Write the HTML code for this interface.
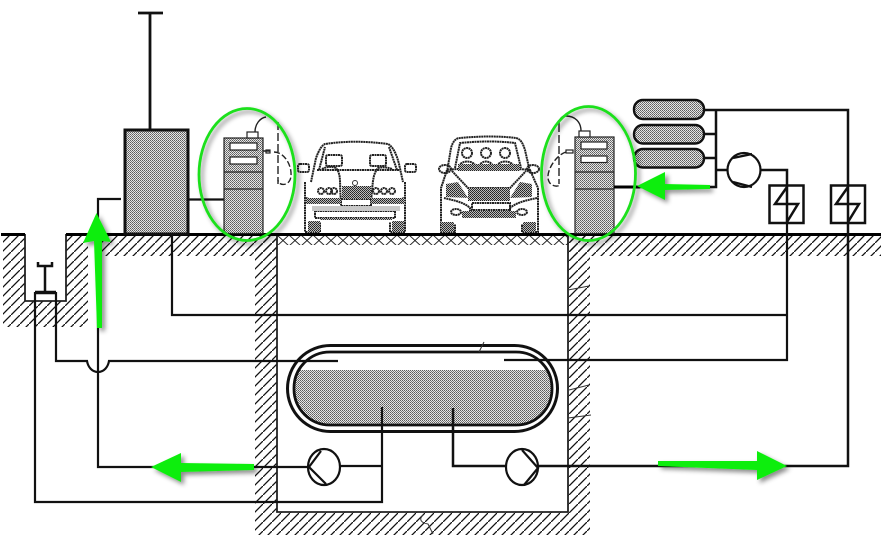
<!DOCTYPE html>
<html><head><meta charset="utf-8"><title>Diagram</title>
<style>html,body{margin:0;padding:0;background:#fff}svg{display:block}</style></head>
<body>
<svg xmlns="http://www.w3.org/2000/svg" width="881" height="552" viewBox="0 0 881 552">
<defs>
<pattern id="h" width="9" height="9" patternUnits="userSpaceOnUse" patternTransform="translate(2,0)">
<path d="M-1 10L10 -1" stroke="#111" stroke-width="1.3"/>
</pattern>
<pattern id="d" width="2" height="2" patternUnits="userSpaceOnUse">
<rect width="2" height="2" fill="#e6e6e6"/><rect width="1" height="1" fill="#5c5c5c"/><rect x="1" y="1" width="1" height="1" fill="#787878"/>
</pattern>
<pattern id="x" width="12" height="11" patternUnits="userSpaceOnUse" patternTransform="translate(277,235)">
<path d="M0 0L12 11M12 0L0 11" stroke="#222" stroke-width="1"/>
</pattern>
<pattern id="c" width="2" height="2" patternUnits="userSpaceOnUse">
<rect width="2" height="2" fill="#bbb"/><rect width="1" height="1" fill="#222"/><rect x="1" y="1" width="1" height="1" fill="#333"/>
</pattern>
<filter id="s" x="-30%" y="-30%" width="170%" height="170%"><feDropShadow dx="3" dy="3" stdDeviation="2.5" flood-color="#000" flood-opacity=".45"/></filter>
</defs>
<rect width="881" height="552" fill="#fff"/>

<!-- hatching -->
<path fill="url(#h)" d="M3 235H25V301H66V235H88V327H3Z"/>
<path fill="url(#h)" d="M100 235H277V256H100Z"/>
<path fill="url(#h)" d="M255 235H277V512H568V235H590V535H255Z"/>
<path fill="url(#h)" d="M568 235H881V256H568Z"/>
<rect x="277" y="235" width="291" height="10" fill="url(#x)"/>

<!-- vault + pit -->
<g fill="none" stroke="#222" stroke-width="1.8">
<path d="M277 234V512H568V234"/>
<path d="M25 234V301H66V234"/>
</g>

<!-- ground -->
<path d="M1 234.5H25M66 234.5H881" stroke="#000" stroke-width="3" fill="none"/>

<!-- tank -->
<rect x="287.500" y="345.500" width="270" height="86" rx="43" fill="#fff" stroke="#111" stroke-width="3"/>
<path d="M297 370H549C552 376 552 382 552 388C552 408 535 425 514 425H332C311 425 294 408 294 388C294 382 295 376 297 370Z" fill="url(#d)"/>
<rect x="294" y="352" width="258" height="73" rx="36" fill="none" stroke="#111" stroke-width="2.800"/>

<!-- pipes -->
<g fill="none" stroke="#111" stroke-width="2.200">
<path d="M150 13V129M138 13H163" stroke-width="2.800"/>
<path d="M188 199.500H224"/>
<path d="M121 199H98V328" />
<path d="M98 328V467H308M340 466H382"/>
<path d="M56 292V361H87C88 367 92 372 98 372C104 372 108 367 109 361H338"/>
<path d="M504 360H787V223"/>
<path d="M35 292V502H382V407"/>
<path d="M172 234V315H787"/>
<path d="M453 408V466H506M538 466H848V223" stroke-width="2.500"/>
<path d="M35 292.500H56" stroke-width="3.500"/>
<path d="M45 292V266M38 262V266H52V262" stroke-width="2.500"/>
<path d="M614 187H716V110M704 110H848V186M704 134H716M704 158H716M716 170H727M761 170H787V185" stroke-width="2.500"/>
<path d="M787 223V186M848 223V186" stroke-width="2.500"/>
<path d="M787 187L775 204H798L787 222M848 187L836 204H859L848 222" stroke-width="2.500"/>
<rect x="769.500" y="185.500" width="34" height="37.500" stroke-width="2.500"/>
<rect x="831" y="185.500" width="34" height="37.500" stroke-width="2.500"/>
</g>

<!-- pumps -->
<g fill="#fff" stroke="#111" stroke-width="2.200">
<ellipse cx="324" cy="467" rx="16" ry="18"/>
<path d="M321 451L309 467L326 484" fill="none"/>
<ellipse cx="522" cy="467" rx="16" ry="18"/>
<path d="M522 450L538 468L524 485" fill="none"/>
<ellipse cx="744" cy="170" rx="16.500" ry="17"/>
<path d="M733 158L752 154M733 182L752 187" fill="none"/>
</g>

<!-- storage cylinders -->
<g fill="url(#d)" stroke="#111" stroke-width="2.400">
<rect x="634" y="100" width="70" height="19" rx="9"/>
<rect x="634" y="125" width="70" height="18.500" rx="9"/>
<rect x="634" y="149" width="70" height="18.500" rx="9"/>
</g>

<!-- building box -->
<rect x="125" y="130" width="63" height="104" fill="url(#d)" stroke="#111" stroke-width="3"/>

<!-- left dispenser -->
<g stroke="#222" stroke-width="1.200">
<rect x="224" y="138" width="39" height="95.500" fill="url(#d)"/>
<path d="M224 172H263M224 189H263" fill="none"/>
<rect x="230" y="143" width="27" height="7" fill="#fff"/>
<rect x="230" y="157" width="27" height="7" fill="#fff"/>
<rect x="247" y="132" width="11" height="6" fill="#fff"/>
<rect x="266" y="150" width="4" height="3" fill="#fff"/>
</g>
<g fill="none" stroke="#222" stroke-width="1.400">
<path d="M255 132C255 124 260 118 266 117M263 151H270"/>
<path d="M278 122V184" stroke-dasharray="8 3"/>
<path d="M274 152C284 152 292 165 291 176C290 187 278 186 278 180" stroke-dasharray="6 2.500"/>
</g>

<!-- right dispenser -->
<g stroke="#222" stroke-width="1.200">
<rect x="575" y="137" width="39" height="96.500" fill="url(#d)"/>
<path d="M575 172H614M575 189H614" fill="none"/>
<rect x="581" y="142" width="26" height="7" fill="#fff"/>
<rect x="581" y="156" width="26" height="6.500" fill="#fff"/>
<rect x="579" y="131" width="11" height="6" fill="#fff"/>
<rect x="566" y="150" width="7" height="3" fill="#fff"/>
</g>
<g fill="none" stroke="#222" stroke-width="1.400">
<path d="M581 131C581 122 575 116 566 116C561 116 559 120 559 124"/>
<path d="M559 124V184" stroke-dasharray="8 3"/>
<path d="M566 152C556 155 547 170 548 178C549 187 558 187 560 185" stroke-dasharray="6 2.500"/>
</g>

<!-- car 1 -->
<g fill="none" stroke="#222" stroke-width="2" stroke-dasharray="2 .5">
<path d="M311 182L316 158C319 150 322 145 325 144C345 141 365 141 388 144C392 146 396 152 399 164L403 182"/>
<path d="M319 170L325 147M397 170L389 147"/>
<path d="M317 170H400"/>
<path d="M322 169C326 167 331 166 336 168C342 175 339 185 341 200M392 169C386 167 383 167 378 168C372 175 373 185 371 200"/>
<rect x="326" y="155" width="16" height="11" rx="2"/>
<rect x="370" y="155" width="16" height="11" rx="2"/>
<rect x="298" y="164" width="11" height="8" rx="2"/>
<rect x="405" y="164" width="11" height="8" rx="2"/>
<path d="M305 182V232H320V222M405 182V232H390V222"/>
<path d="M306 198C320 203 330 203 341 198M404 198C392 203 380 203 371 198"/>
<circle cx="321" cy="191" r="3"/><circle cx="329" cy="191" r="3"/><circle cx="334" cy="191" r="3"/>
<circle cx="376" cy="191" r="3"/><circle cx="384" cy="191" r="3"/><circle cx="392" cy="191" r="3"/>
<rect x="341" y="199" width="30" height="7"/>
<rect x="315" y="211" width="80" height="7"/>
</g>
<rect x="342" y="186" width="29" height="13" fill="url(#c)"/>
<rect x="306" y="198" width="35" height="6" fill="url(#c)"/>
<rect x="371" y="198" width="34" height="6" fill="url(#c)"/>
<rect x="308" y="221" width="12" height="11" fill="url(#c)"/>
<rect x="392" y="221" width="12" height="11" fill="url(#c)"/>
<rect x="312" y="206" width="88" height="5" fill="#c8c8c8"/>
<rect x="320" y="218" width="72" height="2" fill="url(#c)"/>
<circle cx="355" cy="183" r="2.500" fill="none" stroke="#333"/>

<!-- car 2 -->
<g fill="none" stroke="#222" stroke-width="2" stroke-dasharray="2 .5">
<path d="M447 172L451 148C453 141 456 138 460 138C480 136 500 136 516 138C521 139 523 144 525 150L530 172"/>
<path d="M455 168L460 143C480 141 500 141 515 143L521 168"/>
<path d="M447 170C455 168 520 168 530 170L538 188"/>
<path d="M447 170L441 188V232H455V224M538 188V232H522V224"/>
<ellipse cx="445" cy="169" rx="6" ry="4"/>
<ellipse cx="533" cy="169" rx="6" ry="4"/>
<circle cx="467" cy="153" r="5"/><circle cx="486" cy="153" r="5"/><circle cx="505" cy="153" r="5"/>
<path d="M459 166C462 160 472 160 476 166M479 166C482 160 490 160 493 166M497 166C500 160 510 160 514 166"/>
<path d="M452 171L468 188H510L526 171"/>
<path d="M444 198C452 200 464 202 470 208V216M537 198C528 200 517 202 510 208V216"/>
<rect x="472" y="203" width="38" height="7"/>
<ellipse cx="456" cy="212" rx="5" ry="3"/>
<ellipse cx="522" cy="212" rx="5" ry="3"/>
</g>
<path d="M446 184L458 182L468 198L446 197Z" fill="url(#c)"/>
<path d="M532 184L520 182L510 198L532 197Z" fill="url(#c)"/>
<rect x="458" y="164" width="62" height="7" fill="url(#c)"/>
<rect x="468" y="188" width="42" height="13" fill="url(#c)"/>
<rect x="462" y="211" width="54" height="7" fill="url(#c)"/>
<rect x="441" y="222" width="13" height="10" fill="url(#c)"/>
<rect x="523" y="222" width="13" height="10" fill="url(#c)"/>

<!-- marks -->
<g fill="none" stroke="#333" stroke-width="1">
<path d="M568 290L589 286M569 390L589 385M568 418L591 415M479 352L484 342"/>
<path d="M423 515C418 520 422 523 428 524L433 534" />
</g>

<!-- thick section under right arrow -->
<path d="M614 187H640" stroke="#000" stroke-width="3"/>

<!-- green -->
<g filter="url(#s)">
<ellipse cx="247" cy="174.500" rx="48" ry="66" fill="none" stroke="#1be01b" stroke-width="2.800"/>
<ellipse cx="588.500" cy="173.500" rx="47" ry="67" fill="none" stroke="#1be01b" stroke-width="2.800"/>
</g>
<g filter="url(#s)" fill="#10ee10">
<path d="M96.500 213L111 242L102 241L102 328H97L94 241L83 243Z"/>
<path d="M151 467L181 453V463L254 464V470L181 472V482Z"/>
<path d="M787 466L757 451V461L658 461V466L757 470V480Z"/>
<path d="M637 186L665 172V184L710 185V189L665 190V200Z"/>
</g>
</svg>
</body></html>
